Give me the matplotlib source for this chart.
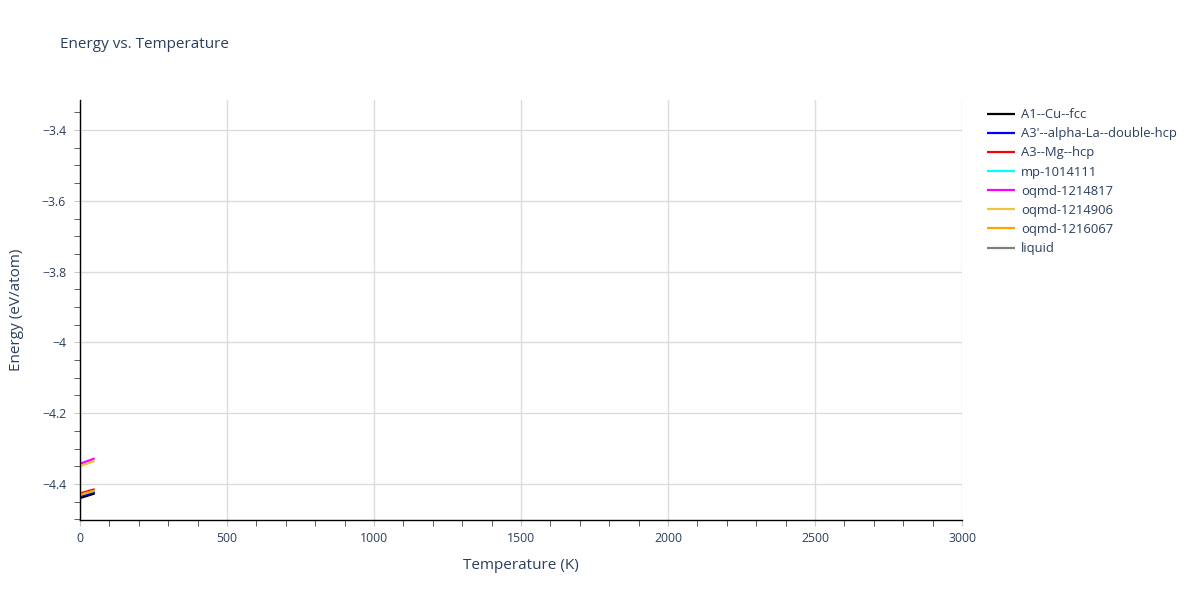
import matplotlib
matplotlib.use("Agg")
import matplotlib.pyplot as plt
from matplotlib.ticker import MultipleLocator, FuncFormatter

plt.rcParams['font.family'] = ['Open Sans', 'DejaVu Sans']

series_names = ["A1--Cu--fcc", "A3'--alpha-La--double-hcp", "A3--Mg--hcp", "mp-1014111",
                "oqmd-1214817", "oqmd-1214906", "oqmd-1216067", "liquid"]
series_colors = ["black", "blue", "red", "cyan", "magenta", "#f0c43c", "orange", "grey"]

temps = [0, 50]
energy_a1 = [-4.440, -4.427]
energy_a3p = [-4.435, -4.423]
energy_a3 = [-4.427, -4.415]
energy_mp1014111 = [-4.431, -4.419]
energy_oqmd1214817 = [-4.343, -4.328]
energy_oqmd1214906 = [-4.350, -4.335]
energy_oqmd1216067 = [-4.431, -4.419]
energy_liquid = []

series_values = [energy_a1, energy_a3p, energy_a3, energy_mp1014111,
                 energy_oqmd1214817, energy_oqmd1214906, energy_oqmd1216067, energy_liquid]

txt = '#2a3f5f'
fig = plt.figure(figsize=(12, 6), dpi=100)
ax = fig.add_axes([80/1200, 80/600, 882/1200, 420/600])

for name, col, vals in zip(series_names, series_colors, series_values):
    t = temps if vals else []
    ax.plot(t, vals, color=col, lw=1.6, label=name, solid_capstyle='butt')

ax.set_xlim(0, 3000)
ax.set_ylim(-4.502, -3.315)
ax.xaxis.set_major_locator(MultipleLocator(500))
ax.xaxis.set_minor_locator(MultipleLocator(100))
ax.yaxis.set_major_locator(MultipleLocator(0.2))
ax.yaxis.set_minor_locator(MultipleLocator(0.05))

def fmt(v, pos):
    s = f"{v:.1f}".rstrip('0').rstrip('.')
    if s in ("-0", "0"):
        s = "0"
    return s.replace('-', '\u2212')

ax.yaxis.set_major_formatter(FuncFormatter(fmt))
ax.grid(True, which='major', color='#dcdcdc', lw=1)
ax.set_axisbelow(True)
for s in ['top', 'right']:
    ax.spines[s].set_visible(False)
for s in ['left', 'bottom']:
    ax.spines[s].set_color('black')
    ax.spines[s].set_linewidth(1)
ax.tick_params(which='major', length=4, color='#c8c8c8', labelsize=8.8, labelcolor=txt)
ax.tick_params(axis='y', which='major', pad=6)
ax.tick_params(axis='x', which='major', pad=5)
ax.tick_params(which='minor', length=4, color='#444444')

ax.set_xlabel("Temperature (K)", fontsize=11, color=txt, labelpad=9)
ax.set_ylabel("Energy (eV/atom)", fontsize=11, color=txt, labelpad=13)

fig.text(60/1200, 1 - 45/600, "Energy vs. Temperature", fontsize=11, color=txt, va='center', ha='left')

leg = fig.legend(loc='upper left', bbox_to_anchor=(982/1200, 1 - 103/600), frameon=False,
                 fontsize=9.4, handlelength=2.15, handletextpad=0.45, labelspacing=0.47, borderaxespad=0)
for t in leg.get_texts():
    t.set_color(txt)

fig.savefig("out.png", dpi=100)
